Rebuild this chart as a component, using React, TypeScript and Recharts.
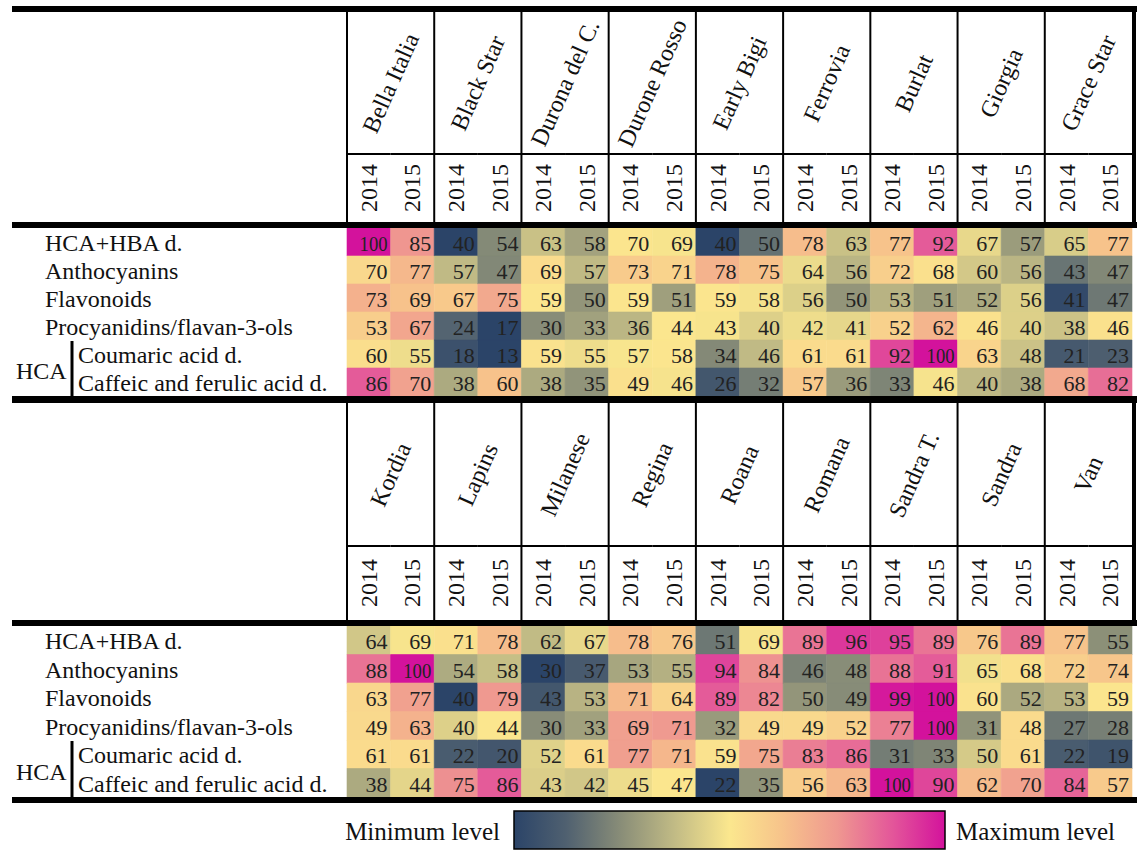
import React from 'react';
import { BarChart, Bar, XAxis, YAxis, Cell, LabelList } from 'recharts';

const FONT = "'Liberation Serif', 'Times New Roman', Times, serif";

const topCultivars = ['Bella Italia', 'Black Star', 'Durona del C.', 'Durone Rosso', 'Early Bigi', 'Ferrovia', 'Burlat', 'Giorgia', 'Grace Star'];
const bottomCultivars = ['Kordia', 'Lapins', 'Milanese', 'Regina', 'Roana', 'Romana', 'Sandra T.', 'Sandra', 'Van'];
const years = ['2014', '2015'];
const rowLabels = ['HCA+HBA d.', 'Anthocyanins', 'Flavonoids', 'Procyanidins/flavan-3-ols', 'Coumaric acid d.', 'Caffeic and ferulic acid d.'];

// top table (2014, 2015 per cultivar)
const hcaHbaTop = [100, 85, 40, 54, 63, 58, 70, 69, 40, 50, 78, 63, 77, 92, 67, 57, 65, 77];
const anthocyaninsTop = [70, 77, 57, 47, 69, 57, 73, 71, 78, 75, 64, 56, 72, 68, 60, 56, 43, 47];
const flavonoidsTop = [73, 69, 67, 75, 59, 50, 59, 51, 59, 58, 56, 50, 53, 51, 52, 56, 41, 47];
const procyanidinsTop = [53, 67, 24, 17, 30, 33, 36, 44, 43, 40, 42, 41, 52, 62, 46, 40, 38, 46];
const coumaricTop = [60, 55, 18, 13, 59, 55, 57, 58, 34, 46, 61, 61, 92, 100, 63, 48, 21, 23];
const caffeicTop = [86, 70, 38, 60, 38, 35, 49, 46, 26, 32, 57, 36, 33, 46, 40, 38, 68, 82];

// bottom table
const hcaHbaBottom = [64, 69, 71, 78, 62, 67, 78, 76, 51, 69, 89, 96, 95, 89, 76, 89, 77, 55];
const anthocyaninsBottom = [88, 100, 54, 58, 30, 37, 53, 55, 94, 84, 46, 48, 88, 91, 65, 68, 72, 74];
const flavonoidsBottom = [63, 77, 40, 79, 43, 53, 71, 64, 89, 82, 50, 49, 99, 100, 60, 52, 53, 59];
const procyanidinsBottom = [49, 63, 40, 44, 30, 33, 69, 71, 32, 49, 49, 52, 77, 100, 31, 48, 27, 28];
const coumaricBottom = [61, 61, 22, 20, 52, 61, 77, 71, 59, 75, 83, 86, 31, 33, 50, 61, 22, 19];
const caffeicBottom = [38, 44, 75, 86, 43, 42, 45, 47, 22, 35, 56, 63, 100, 90, 62, 70, 84, 57];

const topValues = [hcaHbaTop, anthocyaninsTop, flavonoidsTop, procyanidinsTop, coumaricTop, caffeicTop];
const bottomValues = [hcaHbaBottom, anthocyaninsBottom, flavonoidsBottom, procyanidinsBottom, coumaricBottom, caffeicBottom];

const colorStops: [number, string][] = [
  [0, '#2b4468'],
  [0.12, '#4f6070'],
  [0.25, '#8a8e78'],
  [0.37, '#c0ba85'],
  [0.5, '#fbe78e'],
  [0.62, '#f7c48b'],
  [0.75, '#ef9890'],
  [0.88, '#e3559a'],
  [1, '#d3129c'],
];

const rowStats = rowLabels.map((_, r) => {
  const all = [...topValues[r], ...bottomValues[r]].sort((a, b) => a - b);
  const n = all.length;
  const med = n % 2 ? all[(n - 1) / 2] : (all[n / 2 - 1] + all[n / 2]) / 2;
  return { min: all[0], med, max: all[n - 1] };
});

const hexRgb = (h: string) => [1, 3, 5].map((i) => parseInt(h.slice(i, i + 2), 16));

function colorAt(t: number) {
  const tt = Math.max(0, Math.min(1, t));
  for (let i = 0; i < colorStops.length - 1; i++) {
    const [t0, c0] = colorStops[i];
    const [t1, c1] = colorStops[i + 1];
    if (tt >= t0 && tt <= t1) {
      const f = (tt - t0) / (t1 - t0);
      const a = hexRgb(c0);
      const b = hexRgb(c1);
      const c = a.map((v, k) => Math.round(v + (b[k] - v) * f));
      return `rgb(${c[0]},${c[1]},${c[2]})`;
    }
  }
  return colorStops[colorStops.length - 1][1];
}

function cellColor(v: number, r: number) {
  const { min, med, max } = rowStats[r];
  const t = v <= med ? 0.5 * (v - min) / (med - min) : 0.5 + 0.5 * (v - med) / (max - med);
  return colorAt(t);
}

const PAGE_W = 1140;
const PLOT_LEFT = 347;
const PLOT_RIGHT = 1132;
const LEFT = 12;

const renderValue = (p: any) => {
  const { x, y, width, height, value } = p;
  const s = String(value);
  const extra: any = s.length > 2 ? { textLength: 28, lengthAdjust: 'spacingAndGlyphs' } : {};
  return (
    <text
      x={Number(x) + Number(width) - 3}
      y={Number(y) + Number(height) / 2 + 1}
      textAnchor="end"
      dominantBaseline="central"
      fontSize={22}
      fontFamily={FONT}
      fill="#222"
      {...extra}
    >
      {s}
    </text>
  );
};

type TableProps = {
  cultivars: string[];
  values: number[][];
  top: number;
  height: number;
  headerTop: number;
  sepY: number;
  yearsBottom: number;
  dataTop: number;
  dataBottom: number;
};

function Table({ cultivars, values, top, height, headerTop, sepY, yearsBottom, dataTop, dataBottom }: TableProps) {
  const nCols = cultivars.length * years.length;
  const cw = (PLOT_RIGHT - PLOT_LEFT) / nCols;
  const rowH = (dataBottom - dataTop) / rowLabels.length;
  const data = rowLabels.map((label, r) => {
    const o: any = { label, row: r };
    values[r].forEach((v, i) => {
      o[`v${i}`] = v;
      o[`u${i}`] = 1;
    });
    return o;
  });
  const xTicks = Array.from({ length: nCols }, (_, i) => i + 0.5);

  const HeaderTick = (props: any) => {
    const { x, index } = props;
    const els: any[] = [];
    els.push(
      <text
        key="yr"
        transform={`translate(${x},${(sepY + yearsBottom) / 2}) rotate(-90)`}
        textAnchor="middle"
        dominantBaseline="central"
        fontSize={24}
        fontFamily={FONT}
        fill="#111"
      >
        {years[index % 2]}
      </text>
    );
    els.push(<line key="sep" x1={x - cw / 2} x2={x + cw / 2} y1={sepY} y2={sepY} stroke="#000" strokeWidth={2} />);
    if (index % 2 === 0) {
      const gx = x + cw / 2;
      els.push(
        <text
          key="nm"
          transform={`translate(${gx},${(headerTop + sepY) / 2}) rotate(-66)`}
          textAnchor="middle"
          dominantBaseline="central"
          fontSize={24}
          fontFamily={FONT}
          fill="#111"
        >
          {cultivars[index / 2]}
        </text>
      );
      els.push(<line key="vl" x1={x - cw / 2} x2={x - cw / 2} y1={headerTop} y2={dataTop} stroke="#000" strokeWidth={2} />);
    }
    if (index === nCols - 1) {
      els.push(<line key="vr" x1={x + cw / 2 + 2} x2={x + cw / 2 + 2} y1={headerTop} y2={dataTop} stroke="#000" strokeWidth={4} />);
    }
    return <g>{els}</g>;
  };

  const RowTick = (props: any) => {
    const { y, index, payload } = props;
    const sub = index >= 4;
    const els: any[] = [];
    els.push(
      <text key="t" x={sub ? 78 : 45} y={y + 1} dominantBaseline="central" fontSize={24} fontFamily={FONT} fill="#111">
        {payload.value}
      </text>
    );
    if (index === 4) {
      els.push(
        <text key="h" x={16} y={y + rowH / 2 + 3} dominantBaseline="central" fontSize={24} fontFamily={FONT} fill="#111">
          HCA
        </text>
      );
      els.push(<line key="b" x1={72} x2={72} y1={y - rowH / 2 + 1} y2={y + 1.5 * rowH + 3} stroke="#000" strokeWidth={3} />);
    }
    return <g>{els}</g>;
  };

  return (
    <div style={{ position: 'absolute', left: 0, top, width: PAGE_W, height }}>
      <BarChart
        width={PAGE_W}
        height={height}
        data={data}
        layout="vertical"
        barCategoryGap={0}
        barGap={0}
        margin={{ top: headerTop, left: LEFT, right: PAGE_W - PLOT_RIGHT, bottom: height - dataBottom }}
      >
        <XAxis
          type="number"
          orientation="top"
          domain={[0, nCols]}
          ticks={xTicks}
          interval={0}
          height={dataTop - headerTop}
          axisLine={false}
          tickLine={false}
          tick={HeaderTick}
        />
        <YAxis
          type="category"
          dataKey="label"
          width={PLOT_LEFT - LEFT}
          interval={0}
          axisLine={false}
          tickLine={false}
          tick={RowTick}
        />
        {xTicks.map((_, i) => (
          <Bar key={i} dataKey={`u${i}`} stackId="s" isAnimationActive={false}>
            {data.map((d, r) => {
              const c = cellColor(d[`v${i}`], r);
              return <Cell key={r} fill={c} stroke={c} strokeWidth={0.6} />;
            })}
            <LabelList dataKey={`v${i}`} content={renderValue} />
          </Bar>
        ))}
      </BarChart>
    </div>
  );
}

function Overlay() {
  const thick = [
    [6, 6],
    [222, 6],
    [396, 7],
    [620, 6],
    [797, 6],
  ];
  return (
    <svg width={PAGE_W} height={850} style={{ position: 'absolute', left: 0, top: 0, pointerEvents: 'none' }}>
      <defs>
        <linearGradient id="lg" x1="0" x2="1" y1="0" y2="0">
          {colorStops.map(([t, c]) => (
            <stop key={t} offset={t} stopColor={c} />
          ))}
        </linearGradient>
      </defs>
      {thick.map(([y, h]) => (
        <rect key={y} x={LEFT} y={y} width={1137 - LEFT} height={h} fill="#000" />
      ))}
      <text x={500} y={831} textAnchor="end" dominantBaseline="central" fontSize={25} fontFamily={FONT} fill="#111">
        Minimum level
      </text>
      <rect x={514} y={811} width={431} height={38} fill="url(#lg)" stroke="#000" strokeWidth={1.5} />
      <text x={956} y={831} textAnchor="start" dominantBaseline="central" fontSize={25} fontFamily={FONT} fill="#111">
        Maximum level
      </text>
    </svg>
  );
}

export default function App() {
  return (
    <div style={{ position: 'absolute', left: 0, top: 0, width: PAGE_W, height: 850, background: '#fff', overflow: 'hidden' }}>
      <Table
        cultivars={topCultivars}
        values={topValues}
        top={0}
        height={398}
        headerTop={12}
        sepY={154}
        yearsBottom={222}
        dataTop={228}
        dataBottom={396}
      />
      <Table
        cultivars={bottomCultivars}
        values={bottomValues}
        top={397}
        height={402}
        headerTop={6}
        sepY={149}
        yearsBottom={223}
        dataTop={229}
        dataBottom={400}
      />
      <Overlay />
    </div>
  );
}
